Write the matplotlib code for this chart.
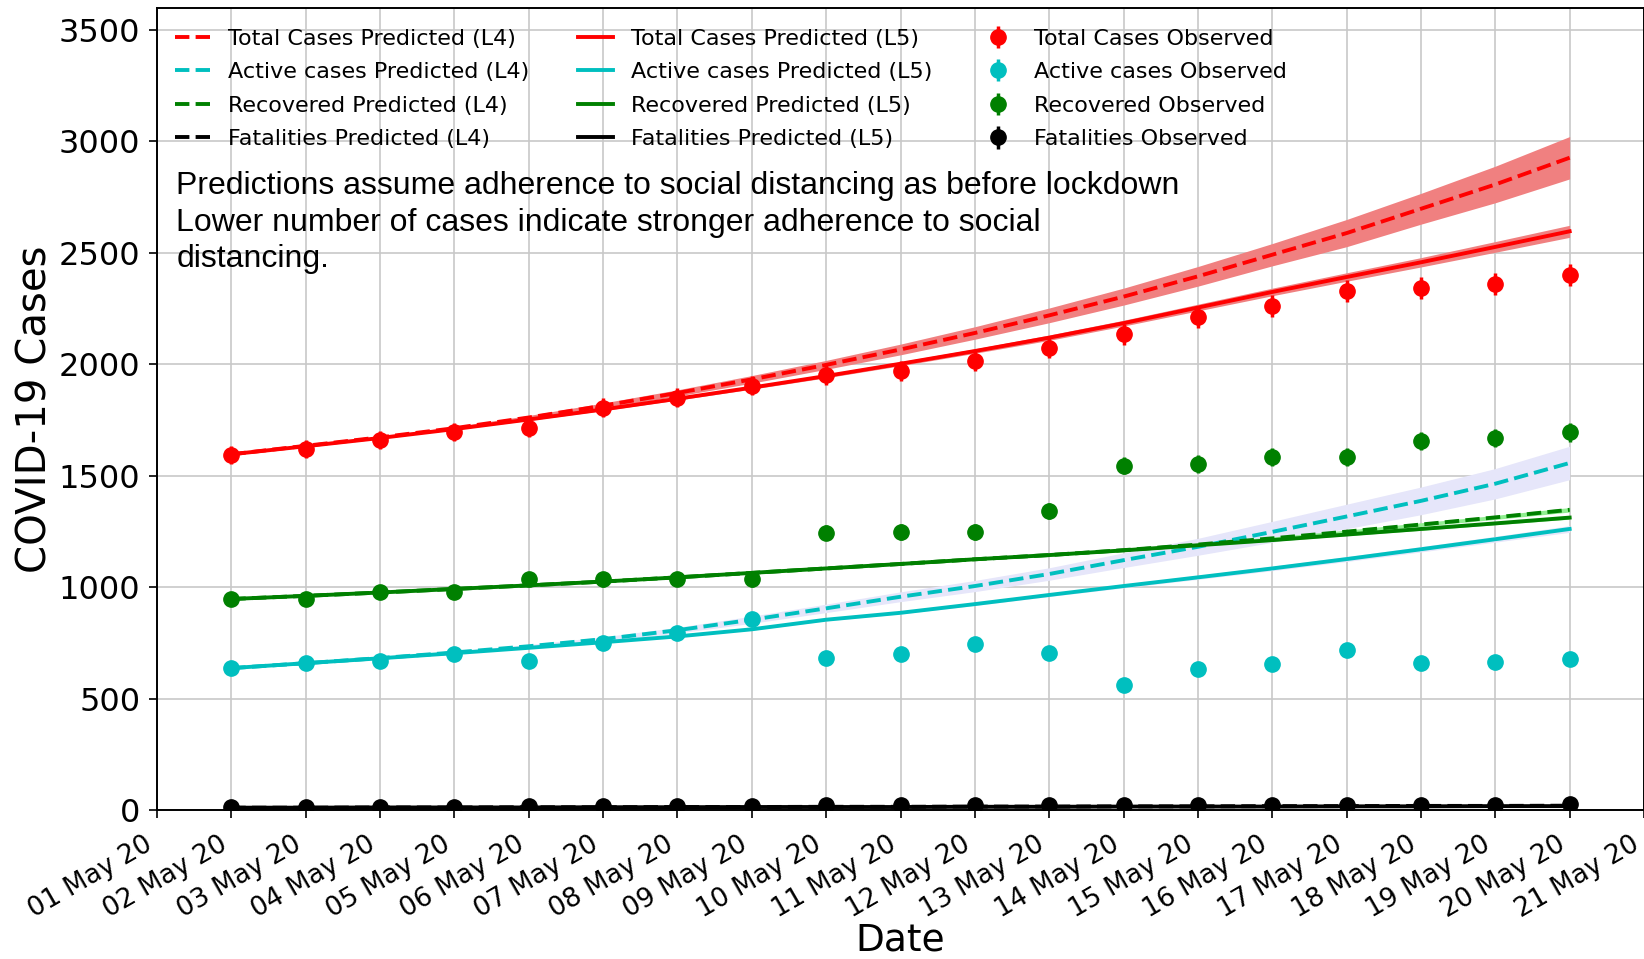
import numpy as np
import matplotlib
matplotlib.use("Agg")
import matplotlib.pyplot as plt
import matplotlib.dates as mdates
from datetime import datetime

dates = [datetime(2020, 5, d) for d in range(2, 21)]

# observed counts, 02 May .. 20 May
total_obs = [1595, 1622, 1660, 1697, 1717, 1806, 1850, 1905, 1953, 1969, 2014,
             2074, 2135, 2211, 2262, 2330, 2343, 2361, 2401]
active_obs = [638, 661, 668, 702, 668, 750, 795, 857, 683, 702, 745,
              707, 563, 635, 656, 721, 661, 664, 680]
recovered_obs = [948, 948, 978, 978, 1037, 1036, 1037, 1036, 1246, 1247, 1247,
                 1342, 1546, 1553, 1584, 1584, 1657, 1671, 1695]
fatalities_obs = [16, 16, 17, 17, 18, 18, 19, 19, 22, 22, 22,
                  23, 23, 24, 24, 25, 25, 26, 27]

# model L4 (dashed)
total_l4 = [1597, 1635, 1673, 1714, 1762, 1815, 1872, 1933, 1998, 2067, 2141,
            2220, 2304, 2395, 2492, 2589, 2698, 2807, 2927]
active_l4 = [638, 660, 683, 708, 736, 768, 808, 855, 906, 958, 1006,
             1060, 1122, 1182, 1249, 1318, 1388, 1465, 1558]
recovered_l4 = [948, 962, 977, 993, 1009, 1026, 1045, 1065, 1085, 1105, 1126,
                1145, 1167, 1192, 1220, 1250, 1282, 1314, 1348]
fatalities_l4 = [12, 12, 13, 13, 14, 14, 15, 15, 16, 16, 17,
                 17, 18, 18, 19, 19, 20, 20, 21]

# model L5 (solid)
total_l5 = [1597, 1633, 1670, 1710, 1753, 1798, 1846, 1896, 1948, 2003, 2060,
            2120, 2185, 2255, 2325, 2392, 2458, 2527, 2597]
active_l5 = [638, 660, 682, 705, 729, 754, 780, 812, 855, 886, 925,
             966, 1006, 1045, 1085, 1127, 1171, 1216, 1262]
recovered_l5 = [948, 962, 977, 993, 1009, 1026, 1045, 1065, 1085, 1105, 1126,
                1145, 1166, 1189, 1212, 1237, 1262, 1287, 1313]
fatalities_l5 = [12, 12, 13, 13, 13, 14, 14, 15, 15, 15, 16,
                 16, 17, 17, 17, 18, 18, 19, 19]

# half-widths of the prediction bands
total_l4_spread = [0, 3, 5, 7, 9, 12, 14, 17, 20, 24, 28, 33, 38, 44, 50, 61, 69, 82, 95]
total_l5_spread = [0, 1, 2, 3, 4, 5, 6, 7, 8, 9, 10, 12, 13, 15, 17, 19, 21, 24, 27]
active_l4_spread = [0, 2, 4, 6, 8, 10, 13, 16, 19, 22, 25, 28, 33, 38, 47, 55, 62, 68, 75]
active_l5_spread = [0, 1, 1, 2, 2, 3, 3, 4, 5, 5, 6, 7, 8, 9, 10, 11, 12, 13, 15]
recovered_l4_spread = [0, 1, 1, 1, 2, 2, 2, 3, 3, 4, 4, 5, 5, 6, 6, 7, 8, 9, 10]
recovered_l5_spread = [0, 1, 1, 1, 1, 2, 2, 2, 3, 3, 3, 4, 4, 4, 5, 5, 6, 6, 7]
fatalities_spread = [0, 0, 0, 1, 1, 1, 1, 1, 1, 2, 2, 2, 2, 2, 2, 3, 3, 3, 3]

note = ("Predictions assume adherence to social distancing as before lockdown\n"
        "Lower number of cases indicate stronger adherence to social\n"
        "distancing.")

fig = plt.figure(figsize=(16.44, 9.59), dpi=100)
ax = fig.add_axes([0.0955, 0.155, 0.9045, 0.837])

series = [
    ("Total Cases", total_l4, total_l4_spread, total_l5, total_l5_spread, total_obs,
     "r", "lightcoral"),
    ("Active cases", active_l4, active_l4_spread, active_l5, active_l5_spread, active_obs,
     "c", "lavender"),
    ("Recovered", recovered_l4, recovered_l4_spread, recovered_l5, recovered_l5_spread,
     recovered_obs, "g", "lightgreen"),
    ("Fatalities", fatalities_l4, fatalities_spread, fatalities_l5, fatalities_spread,
     fatalities_obs, "k", "gray"),
]

# shaded bands first, then the L4 / L5 curves, then the observations
for name, l4, s4, l5, s5, obs, col, band in series:
    l4, s4, l5, s5 = map(np.array, (l4, s4, l5, s5))
    ax.fill_between(dates, l4 - s4, l4 + s4, color=band, lw=0, zorder=1)
    ax.fill_between(dates, l5 - s5, l5 + s5, color=band, lw=0, zorder=1)

for name, l4, s4, l5, s5, obs, col, band in series:
    ax.plot(dates, l4, "--", color=col, lw=2.8, zorder=3,
            label=f"{name} Predicted (L4)")
for name, l4, s4, l5, s5, obs, col, band in series:
    ax.plot(dates, l5, "-", color=col, lw=2.8, zorder=3,
            label=f"{name} Predicted (L5)")
for name, l4, s4, l5, s5, obs, col, band in series:
    obs = np.array(obs)
    ax.errorbar(dates, obs, yerr=np.sqrt(obs), fmt="o", color=col, ms=11,
                elinewidth=2.5, capsize=0, zorder=4, label=f"{name} Observed")

ax.set_xlim(datetime(2020, 5, 1), datetime(2020, 5, 21))
ax.set_ylim(0, 3600)
ax.set_yticks(range(0, 3501, 500))
ax.xaxis.set_major_locator(mdates.DayLocator())
ax.xaxis.set_major_formatter(mdates.DateFormatter("%d %b %y"))
ax.tick_params(axis="y", labelsize=23, length=6, width=1.2, pad=6)
ax.tick_params(axis="x", labelsize=19, length=6, width=1.2, pad=9)
for lab in ax.get_xticklabels():
    lab.set_rotation(30)
    lab.set_ha("right")
ax.grid(True, color="#c8c8c8", lw=1.2)
ax.set_axisbelow(True)
for sp in ax.spines.values():
    sp.set_linewidth(1.4)

ax.set_xlabel("Date", fontsize=27, labelpad=0)
ax.set_ylabel("COVID-19 Cases", fontsize=29, labelpad=2)

ax.legend(loc="upper left", bbox_to_anchor=(0.006, 0.985), ncol=3, frameon=False,
          fontsize=16, handlelength=1.6, handletextpad=0.8, columnspacing=2.17,
          labelspacing=0.61, borderaxespad=0)

ax.text(0.013, 0.797, note, transform=ax.transAxes, fontsize=23,
        family="Liberation Sans", va="top", ha="left", linespacing=1.3)

fig.savefig("out.png", dpi=100)
